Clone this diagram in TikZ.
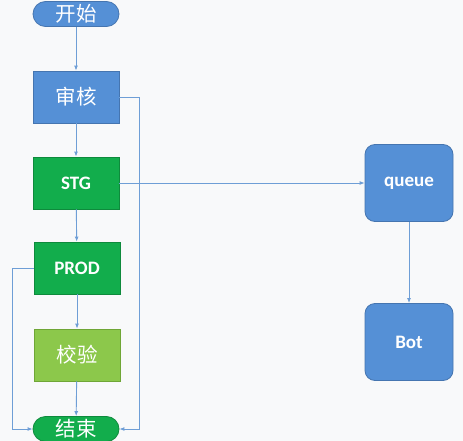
\documentclass[tikz,border=0pt]{standalone}
\usepackage{fontspec}
\setmainfont{Carlito}
\newfontfamily\cjk{Noto Sans CJK SC}
\usetikzlibrary{arrows.meta}
\definecolor{bg}{HTML}{F8F9FA}
\definecolor{blueF}{HTML}{5590D6}
\definecolor{blueD}{HTML}{4575B0}
\definecolor{greenF}{HTML}{12AD4C}
\definecolor{greenD}{HTML}{0E8A3C}
\definecolor{limeF}{HTML}{8CC84B}
\definecolor{limeD}{HTML}{6FA636}
\definecolor{lineC}{HTML}{6E9ED6}
\tikzset{
  box/.style={draw, line width=0.8pt, minimum width=86pt, minimum height=52pt, inner sep=0pt, text=white, font=\fontsize{19}{21}\selectfont\bfseries},
  pill/.style={draw, line width=0.8pt, rounded corners=12.5pt, minimum width=86pt, minimum height=25pt, inner sep=0pt, text=white, font=\cjk\fontsize{20.5}{22}\selectfont},
  cn/.style={font=\cjk\fontsize{20.5}{22}\selectfont},
  rbox/.style={box, rounded corners=10pt, minimum width=88pt, minimum height=77pt},
  conn/.style={draw=lineC, line width=0.9pt, -{Latex[length=5pt,width=4pt]}}
}
\begin{document}
\begin{tikzpicture}[x=1pt,y=-1pt]
\fill[bg] (0,0) rectangle (463,441);
\useasboundingbox (0,0) rectangle (463,441);
\node[pill, fill=blueF, draw=blueD] (start) at (76,14) {开始};
\node[box, cn, fill=blueF, draw=blueD] (audit) at (76,97) {审核};
\node[box, fill=greenF, draw=greenD] (stg) at (76,183) {STG};
\node[box, fill=greenF, draw=greenD] (prod) at (77,268) {PROD};
\node[box, cn, fill=limeF, draw=limeD] (check) at (77,355) {校验};
\node[pill, fill=greenF, draw=greenD] (end) at (76,429) {结束};
\node[rbox, fill=blueF, draw=blueD] (queue) at (409,183) {queue};
\node[rbox, fill=blueF, draw=blueD] (bot) at (409,342) {Bot};
\coordinate (ra) at (139,97);
\coordinate (rb) at (139,429);
\coordinate (la) at (12,268);
\coordinate (lb) at (12,429);
\draw[conn] (start) -- (audit);
\draw[conn] (audit) -- (stg);
\draw[conn] (stg) -- (prod);
\draw[conn] (prod) -- (check);
\draw[conn] (check) -- (end);
\draw[conn] (stg) -- (queue);
\draw[conn] (queue) -- (bot);
\draw[conn] (audit.east) -- (ra) -- (rb) -- (end.east);
\draw[conn] (prod.west) -- (la) -- (lb) -- (end.west);
\end{tikzpicture}
\end{document}
